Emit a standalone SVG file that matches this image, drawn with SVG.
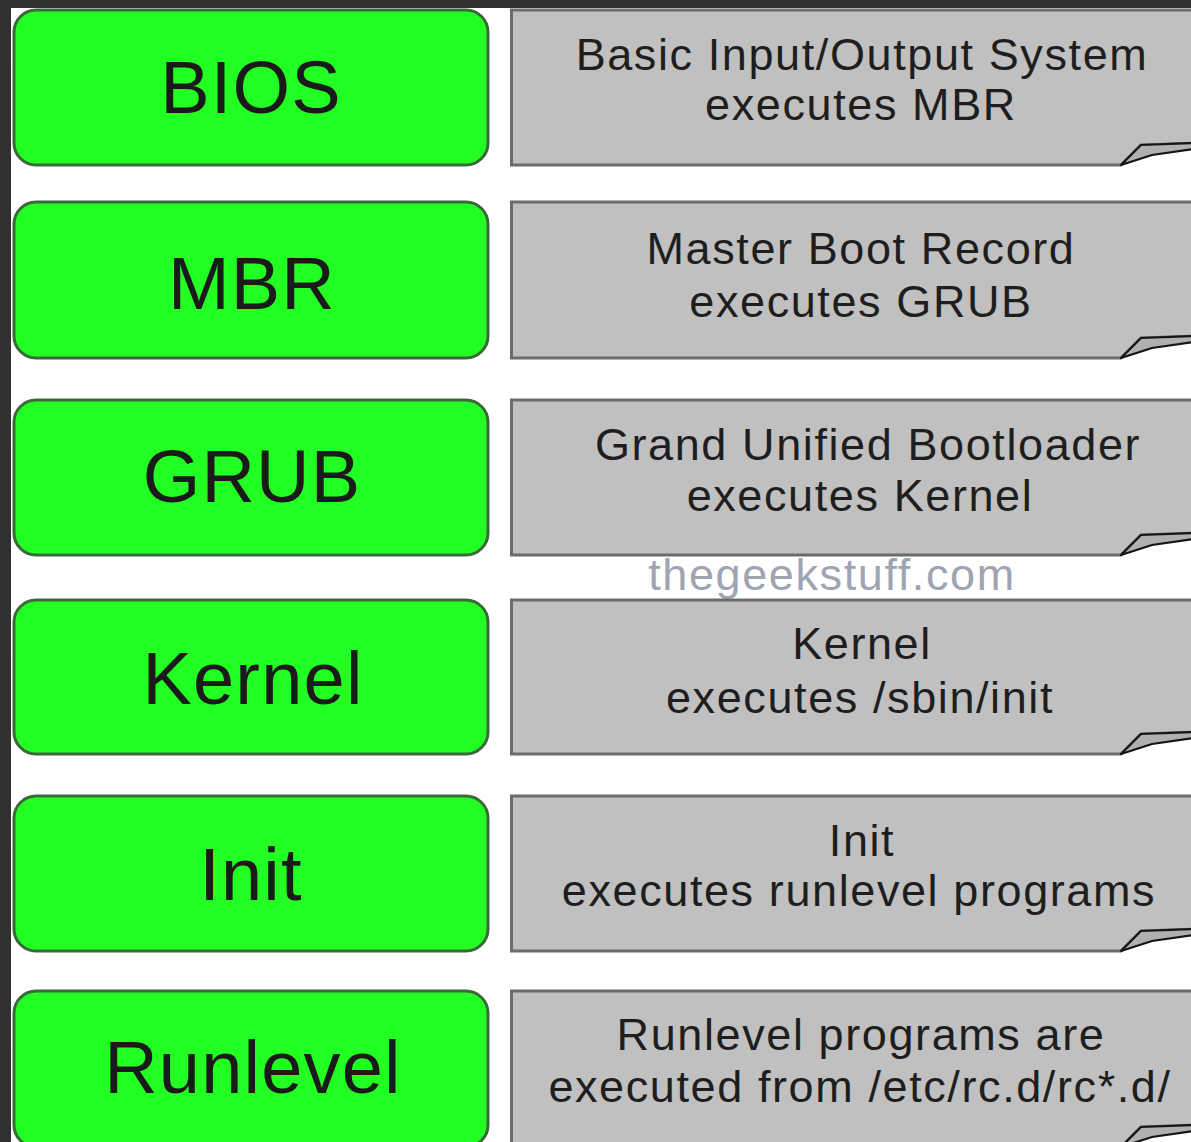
<svg xmlns="http://www.w3.org/2000/svg" width="1191" height="1142" viewBox="0 0 1191 1142">
<style>
.frame{fill:#303030}
.step{fill:#22ff22;stroke:#3a6a3a;stroke-width:3}
.stepText{font-family:"Liberation Sans",Arial,sans-serif;font-size:74px;letter-spacing:1.2px;fill:#1a1a1a;text-anchor:middle}
.note{fill:#c0c0c0;stroke:#6b6b6b;stroke-width:3}
.curl{fill:#b0b0b0;stroke:#151515;stroke-width:2.2;stroke-linejoin:round}
.noteText{font-family:"Liberation Sans",Arial,sans-serif;font-size:45px;letter-spacing:1.6px;fill:#1e1e1e;text-anchor:middle}
.wm{font-family:"Liberation Sans",Arial,sans-serif;font-size:45px;letter-spacing:1.6px;fill:#9ea4b2;text-anchor:middle}
</style>
<rect width="1191" height="1142" fill="#ffffff"/>
<rect class="frame" x="0" y="0" width="1191" height="8"/>
<rect class="frame" x="0" y="0" width="11" height="1142"/>

<g id="bios">
<rect class="step" x="14" y="10" width="474" height="155" rx="22"/>
<text class="stepText" x="251" y="113">BIOS</text>
</g>
<g id="bios-note">
<path class="note" d="M511.5,10 H1200 V143 L1141,145 L1121,165 H511.5 Z"/>
<path class="curl" d="M1121,165 L1141,145 L1193,143 L1193,149 L1152,155 Z"/>
<text class="noteText" x="862" y="70">Basic Input/Output System</text>
<text class="noteText" x="861" y="120">executes MBR</text>
</g>

<g id="mbr">
<rect class="step" x="14" y="202" width="474" height="156" rx="22"/>
<text class="stepText" x="252" y="309">MBR</text>
</g>
<g id="mbr-note">
<path class="note" d="M511.5,202 H1200 V336 L1141,338 L1121,358 H511.5 Z"/>
<path class="curl" d="M1121,358 L1141,338 L1193,336 L1193,342 L1152,348 Z"/>
<text class="noteText" x="861" y="264">Master Boot Record</text>
<text class="noteText" x="861" y="317">executes GRUB</text>
</g>

<g id="grub">
<rect class="step" x="14" y="400" width="474" height="155" rx="22"/>
<text class="stepText" x="252" y="502">GRUB</text>
</g>
<g id="grub-note">
<path class="note" d="M511.5,400 H1200 V533 L1141,535 L1121,555 H511.5 Z"/>
<path class="curl" d="M1121,555 L1141,535 L1193,533 L1193,539 L1152,545 Z"/>
<text class="noteText" x="868" y="460">Grand Unified Bootloader</text>
<text class="noteText" x="860" y="511">executes Kernel</text>
</g>

<text class="wm" x="832" y="590">thegeekstuff.com</text>

<g id="kernel">
<rect class="step" x="14" y="600" width="474" height="154" rx="22"/>
<text class="stepText" x="253" y="704">Kernel</text>
</g>
<g id="kernel-note">
<path class="note" d="M511.5,600 H1200 V732 L1141,734 L1121,754 H511.5 Z"/>
<path class="curl" d="M1121,754 L1141,734 L1193,732 L1193,738 L1152,744 Z"/>
<text class="noteText" x="862" y="659">Kernel</text>
<text class="noteText" x="860" y="713">executes /sbin/init</text>
</g>

<g id="init">
<rect class="step" x="14" y="796" width="474" height="155" rx="22"/>
<text class="stepText" x="251" y="900">Init</text>
</g>
<g id="init-note">
<path class="note" d="M511.5,796 H1200 V929 L1141,931 L1121,951 H511.5 Z"/>
<path class="curl" d="M1121,951 L1141,931 L1193,929 L1193,935 L1152,941 Z"/>
<text class="noteText" x="862" y="856">Init</text>
<text class="noteText" x="859" y="906">executes runlevel programs</text>
</g>

<g id="runlevel">
<rect class="step" x="14" y="991" width="474" height="156" rx="22"/>
<text class="stepText" x="253" y="1093">Runlevel</text>
</g>
<g id="runlevel-note">
<path class="note" d="M511.5,991 H1200 V1125 L1141,1127 L1121,1147 H511.5 Z"/>
<path class="curl" d="M1121,1147 L1141,1127 L1193,1125 L1193,1131 L1152,1137 Z"/>
<text class="noteText" x="861" y="1050">Runlevel programs are</text>
<text class="noteText" x="860" y="1102">executed from /etc/rc.d/rc*.d/</text>
</g>

<g id="connectors"></g>
</svg>
